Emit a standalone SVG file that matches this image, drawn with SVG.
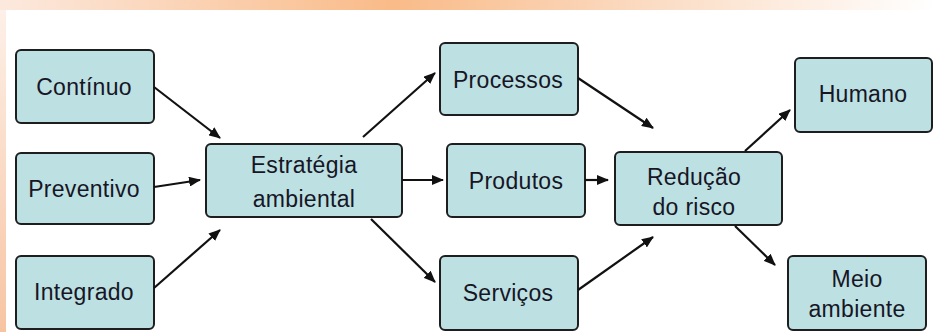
<svg xmlns="http://www.w3.org/2000/svg" width="935" height="332" viewBox="0 0 935 332">
<defs>
<linearGradient id="topband" x1="0" y1="0" x2="1" y2="0">
<stop offset="0" stop-color="#fce9de"/>
<stop offset="0.42" stop-color="#f9bb88"/>
<stop offset="0.7" stop-color="#fbdcc4"/>
<stop offset="1" stop-color="#ffffff"/>
</linearGradient>
<linearGradient id="leftband" x1="0" y1="0" x2="0" y2="1">
<stop offset="0" stop-color="#fdf0e8"/>
<stop offset="1" stop-color="#f7c4a2"/>
</linearGradient>
<marker id="ah" markerWidth="12" markerHeight="10" refX="11" refY="5" orient="auto" markerUnits="userSpaceOnUse">
<path d="M0,0 L12,5 L0,10 Z" fill="#111"/>
</marker>
<style>
.box{fill:#bde0e3;stroke:#1e1e1e;stroke-width:2}
.t{font-family:"Liberation Sans",Arial,sans-serif;font-size:23px;letter-spacing:0.3px;fill:#161625;text-anchor:middle}
.c{stroke:#111;stroke-width:2.2;fill:none;marker-end:url(#ah)}
</style>
</defs>
<rect x="0" y="0" width="935" height="332" fill="#ffffff"/>
<rect x="0" y="0" width="935" height="10" fill="url(#topband)"/>
<rect x="0" y="10" width="6" height="322" fill="url(#leftband)"/>

<g id="continuo"><rect class="box" x="16" y="50" width="138" height="73" rx="5"/><text class="t" x="84" y="95">Contínuo</text></g>
<g id="preventivo"><rect class="box" x="16" y="153" width="138" height="71" rx="5"/><text class="t" x="84" y="197">Preventivo</text></g>
<g id="integrado"><rect class="box" x="16" y="256" width="138" height="73" rx="5"/><text class="t" x="84" y="300">Integrado</text></g>
<g id="estrategia"><rect class="box" x="206" y="144" width="196" height="73" rx="5"/><text class="t" x="304" y="173">Estratégia</text><text class="t" x="304" y="207">ambiental</text></g>
<g id="processos"><rect class="box" x="440" y="43" width="138" height="72" rx="5"/><text class="t" x="508" y="88">Processos</text></g>
<g id="produtos"><rect class="box" x="447" y="144" width="138" height="73" rx="5"/><text class="t" x="516" y="189">Produtos</text></g>
<g id="servicos"><rect class="box" x="440" y="256" width="138" height="74" rx="5"/><text class="t" x="508" y="301">Serviços</text></g>
<g id="reducao"><rect class="box" x="615" y="152" width="167" height="73" rx="5"/><text class="t" x="694" y="185">Redução</text><text class="t" x="694" y="215">do risco</text></g>
<g id="humano"><rect class="box" x="795" y="58" width="137" height="74" rx="5"/><text class="t" x="863" y="102">Humano</text></g>
<g id="meio"><rect class="box" x="788" y="256" width="138" height="74" rx="5"/><text class="t" x="857" y="287">Meio</text><text class="t" x="857" y="317">ambiente</text></g>

<g id="connectors">
<line class="c" x1="154" y1="87" x2="220" y2="138"/>
<line class="c" x1="154" y1="187" x2="200" y2="180"/>
<line class="c" x1="154" y1="288" x2="220" y2="230"/>
<line class="c" x1="363" y1="137" x2="435" y2="73"/>
<line class="c" x1="402" y1="180" x2="443" y2="180"/>
<line class="c" x1="371" y1="219" x2="435" y2="282"/>
<line class="c" x1="578" y1="78" x2="653" y2="128"/>
<line class="c" x1="585" y1="180" x2="608" y2="180"/>
<line class="c" x1="578" y1="290" x2="653" y2="237"/>
<line class="c" x1="745" y1="151" x2="790" y2="110"/>
<line class="c" x1="735" y1="226" x2="775" y2="265"/>
</g>
</svg>
